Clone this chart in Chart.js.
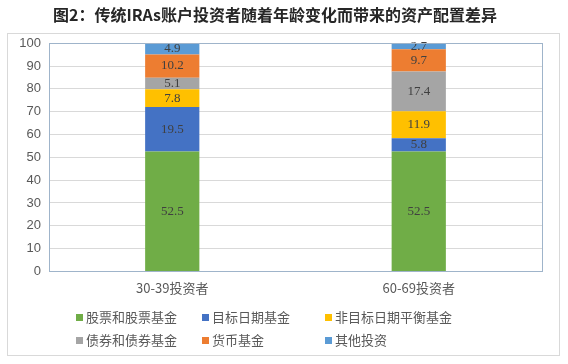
<!DOCTYPE html>
<html>
<head>
<meta charset="utf-8">
<script src="https://cdn.jsdelivr.net/npm/chart.js@4.4.0/dist/chart.umd.min.js"></script>
<style>
  html, body { margin: 0; padding: 0; background: #fff; }
  #wrap { position: relative; width: 568px; height: 364px; }
  #graphic { position: absolute; left: 0; top: 0; }
  #legend { position: absolute; left: 0; top: 0; width: 568px; height: 364px; pointer-events: none;
    font-family: "Noto Sans CJK SC", sans-serif; font-size: 13px; color: #595959; }
  .item { position: absolute; white-space: nowrap; line-height: 18px; }
  .box { display: inline-block; width: 7px; height: 7px; margin-right: 3px; vertical-align: 1px; }
</style>
</head>
<body>
<div id="wrap">
  <canvas id="graphic" width="568" height="364"></canvas>
  <div id="legend"></div>
</div>
<script>
const title = '图2：传统IRAs账户投资者随着年龄变化而带来的资产配置差异';
const categories = ['30-39投资者', '60-69投资者'];
const seriesNames = ['股票和股票基金', '目标日期基金', '非目标日期平衡基金', '债券和债券基金', '货币基金', '其他投资'];
const stockFunds = [52.5, 52.5];
const targetDate = [19.5, 5.8];
const balanced = [7.8, 11.9];
const bondFunds = [5.1, 17.4];
const moneyFunds = [10.2, 9.7];
const otherInv = [4.9, 2.7];
const yTicks = [0, 10, 20, 30, 40, 50, 60, 70, 80, 90, 100];

const colors = ['#70AD47', '#4472C4', '#FFC000', '#A5A5A5', '#ED7D31', '#5B9BD5'];
const seriesValues = [stockFunds, targetDate, balanced, bondFunds, moneyFunds, otherInv];

// outer frame + plot area border
const framePlugin = {
  id: 'frame',
  beforeDraw(chart) {
    const { ctx } = chart;
    ctx.save();
    ctx.fillStyle = '#fff';
    ctx.fillRect(0, 0, chart.width, chart.height);
    ctx.strokeStyle = '#d9d9d9';
    ctx.lineWidth = 1;
    ctx.strokeRect(7.5, 33.5, 552, 322);
    ctx.restore();
  },
  afterDraw(chart) {
    const { ctx, chartArea: a } = chart;
    ctx.save();
    ctx.strokeStyle = '#9fb4ca';
    ctx.lineWidth = 1;
    ctx.strokeRect(Math.round(a.left) + 0.5, Math.round(a.top) + 0.5,
      Math.round(a.right - a.left), Math.round(a.bottom - a.top));
    ctx.restore();
  },
};

// value labels in the middle of each segment
const valueLabels = {
  id: 'valueLabels',
  afterDatasetsDraw(chart) {
    const { ctx } = chart;
    ctx.save();
    ctx.font = '13px "Liberation Serif", "DejaVu Serif", serif';
    ctx.fillStyle = '#404040';
    ctx.textAlign = 'center';
    ctx.textBaseline = 'middle';
    chart.data.datasets.forEach((ds, i) => {
      chart.getDatasetMeta(i).data.forEach((bar, j) => {
        const { x, y, base } = bar.getProps(['x', 'y', 'base'], true);
        ctx.fillText(ds.data[j].toFixed(1), x, (y + base) / 2);
      });
    });
    ctx.restore();
  },
};

const ctx = document.querySelector('#graphic').getContext('2d');
const graphic = new Chart(ctx, {
  type: 'bar',
  data: {
    labels: categories,
    datasets: seriesNames.map((name, i) => ({
      label: name,
      data: seriesValues[i],
      backgroundColor: colors[i],
      borderWidth: 0,
      barPercentage: 0.22,
      categoryPercentage: 1,
    })),
  },
  options: {
    responsive: false,
    animation: false,
    layout: { padding: { left: 8, right: 26, top: 0, bottom: 67 } },
    plugins: {
      legend: { display: false },
      tooltip: { enabled: false },
      title: {
        display: true,
        text: title,
        color: '#262626',
        font: { family: '"Noto Sans CJK SC"', size: 16, weight: 'bold' },
        padding: { top: 5, bottom: 19 },
      },
    },
    scales: {
      x: {
        stacked: true,
        grid: { display: false },
        border: { display: false },
        ticks: { color: '#595959', font: { family: '"Noto Sans CJK SC"', size: 13 }, padding: 1 },
      },
      y: {
        stacked: true,
        min: 0,
        max: 100,
        afterBuildTicks: (scale) => { scale.ticks = yTicks.map((v) => ({ value: v })); },
        afterFit: (scale) => { scale.width = 41; },
        grid: { color: '#d9d9d9', drawTicks: false },
        border: { display: false },
        ticks: { color: '#595959', font: { family: '"Liberation Sans", Arial', size: 13 }, padding: 8 },
      },
    },
  },
  plugins: [framePlugin, valueLabels],
});
graphic.render();

// legend laid out in aligned columns like the original
const legendCols = [76, 202, 325];
const legendRows = [308, 331];
const legend = document.querySelector('#legend');
seriesNames.forEach((name, i) => {
  const el = document.createElement('div');
  el.className = 'item';
  el.style.left = legendCols[i % 3] + 'px';
  el.style.top = legendRows[Math.floor(i / 3)] + 'px';
  el.innerHTML = '<span class="box" style="background:' + colors[i] + '"></span>' + name;
  legend.appendChild(el);
});
</script>
</body>
</html>
